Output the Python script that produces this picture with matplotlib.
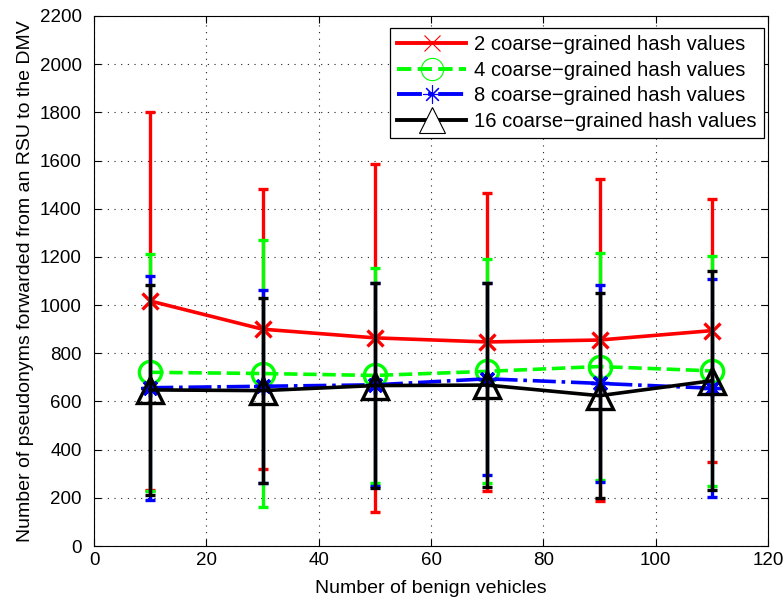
import matplotlib
matplotlib.use("Agg")
import matplotlib.pyplot as plt
from matplotlib.lines import Line2D

plt.rcParams['font.family'] = ['Liberation Sans', 'DejaVu Sans']

vehicles = [10, 30, 50, 70, 90, 110]

mean_2 = [1017, 900, 864, 847, 855, 894]
err_2 = [783, 581, 722, 619, 667, 545]

mean_4 = [721, 716, 708, 725, 745, 727]
err_4 = [493, 553, 445, 465, 473, 478]

mean_8 = [657, 663, 669, 694, 675, 655]
err_8 = [464, 400, 421, 399, 408, 452]

mean_16 = [648, 645, 666, 668, 624, 686]
err_16 = [435, 383, 424, 422, 425, 455]

labels = ['2 coarse\u2212grained hash values',
          '4 coarse\u2212grained hash values',
          '8 coarse\u2212grained hash values',
          '16 coarse\u2212grained hash values']

x_ticks = [0, 20, 40, 60, 80, 100, 120]
y_ticks = [0, 200, 400, 600, 800, 1000, 1200, 1400, 1600, 1800, 2000, 2200]

fig = plt.figure(figsize=(7.84, 6.03), dpi=100)
ax = fig.add_axes([0.1199, 0.0945, 0.8597, 0.879])

asterisk = (8, 2, 0)
series = [
    (mean_2, err_2, '#ff0000', '-', 'x', 11),
    (mean_4, err_4, '#00ff00', '--', 'o', 16),
    (mean_8, err_8, '#0000ff', '-.', asterisk, 13),
    (mean_16, err_16, '#000000', '-', '^', 19),
]

handles = []
for i, (m, e, c, ls, mk, ms) in enumerate(series):
    ax.errorbar(vehicles, m, yerr=e, color=c, ls=ls, lw=2.6,
                marker=mk, ms=ms, mfc='none', mec=c, mew=2.4,
                elinewidth=2.4, capsize=3.8, capthick=2.6, zorder=3 + i)
    handles.append(Line2D([], [], color=c, ls=ls, lw=2.8, marker=mk,
                          ms=ms, mfc='white' if mk == '^' else 'none',
                          mec=c, mew=0.8))

ax.set_xlim(0, 120)
ax.set_ylim(0, 2200)
ax.set_xticks(x_ticks)
ax.set_yticks(y_ticks)
ax.tick_params(direction='in', top=True, right=True, labelsize=13.5, length=5)
ax.tick_params(axis='y', pad=9)
ax.tick_params(axis='x', pad=4)
ax.grid(True, ls=(0, (1, 5)), color='#222222', lw=0.8)
ax.set_axisbelow(True)

ax.set_xlabel('Number of benign vehicles', fontsize=14, labelpad=8)
ax.set_ylabel('Number of pseudonyms forwarded from an RSU to the DMV', fontsize=14, labelpad=4)

leg = ax.legend(handles, labels, loc='upper right', fontsize=14.6, handlelength=3.4,
                borderpad=0.35, labelspacing=0.32, handletextpad=0.4,
                borderaxespad=0, fancybox=False, framealpha=1, edgecolor='black',
                bbox_to_anchor=(0.994, 0.977))
leg.get_frame().set_linewidth(0.9)

fig.savefig('out.png', dpi=100)
